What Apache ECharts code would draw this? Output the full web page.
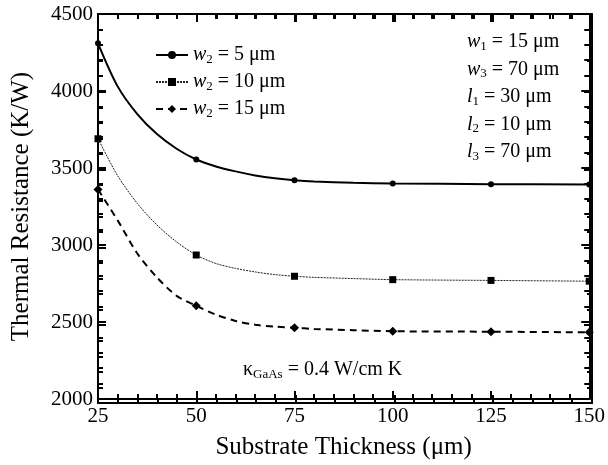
<!DOCTYPE html>
<html>
<head>
<meta charset="utf-8">
<script src="https://cdn.jsdelivr.net/npm/echarts@6/dist/echarts.min.js"></script>
<style>html,body{margin:0;padding:0;background:#fff}#c{width:608px;height:465px}</style>
</head>
<body>
<div id="c"></div>
<script>
// Substrate thickness (µm) sampled along the curves
const thickness = [25,30,35,40,45,50,55,60,65,70,75,80,90,100,125,150];
// Thermal resistance (K/W) for each w2
const rW5  = [4310,4030,3850,3720,3625,3555,3510,3478,3452,3433,3420,3412,3404,3400,3395,3393];
const rW10 = [3690,3450,3270,3130,3020,2935,2880,2848,2825,2808,2797,2790,2782,2775,2770,2765];
const rW15 = [3360,3160,2945,2790,2670,2605,2548,2507,2482,2470,2463,2455,2447,2440,2437,2433];
// thicknesses where markers are plotted
const markerThickness = [25,50,75,100,125,150];
const seriesW2 = ['5','10','15'];
const xTicks = [25,50,75,100,125,150];
const yTicks = [2000,2500,3000,3500,4000,4500];
const params = [['w','1','15'],['w','3','70'],['l','1','30'],['l','2','10'],['l','3','70']];

const FONT = 'Liberation Serif';
const chart = echarts.init(document.getElementById('c'));

function mkData(vals, sym) {
  return thickness.map((x, i) => ({
    value: [x, vals[i]],
    symbol: markerThickness.indexOf(x) >= 0 ? sym : 'none'
  }));
}
const names = seriesW2.map(v => 'w2 = ' + v + ' μm');
const richBase = {
  i: {fontFamily: FONT, fontSize: 20, fontStyle: 'italic', color: '#000'},
  s: {fontFamily: FONT, fontSize: 13, color: '#000', padding: [9, 0, 0, 0]},
  n: {fontFamily: FONT, fontSize: 20, color: '#000'}
};

function axisCommon(extra) {
  return Object.assign({
    type: 'value',
    axisLine: {show: true, onZero: false, lineStyle: {color: '#000', width: 2}},
    axisTick: {show: true, inside: true, length: 8, lineStyle: {color: '#000', width: 2}},
    minorTick: {show: true, splitNumber: 5, length: 5, lineStyle: {color: '#000', width: 2}},
    splitLine: {show: false},
    minorSplitLine: {show: false}
  }, extra);
}
const xr = {min: xTicks[0], max: xTicks[xTicks.length-1], interval: 25};
const yr = {min: yTicks[0], max: yTicks[yTicks.length-1], interval: 500};

const option = {
  backgroundColor: '#fff',
  animation: false,
  grid: [
    {left: 98, right: 16, top: 14, bottom: 62},
    {left: 98, right: 16, top: 14, bottom: 62}
  ],
  xAxis: [
    axisCommon(Object.assign({gridIndex: 0, position: 'bottom',
      axisLabel: {color: '#000', fontSize: 21, fontFamily: FONT, margin: 7, showMinLabel: true, showMaxLabel: true,
        formatter: v => String(v)},
      name: 'Substrate Thickness (μm)', nameLocation: 'middle', nameGap: 36,
      nameTextStyle: {color: '#000', fontSize: 25, fontFamily: FONT}}, xr)),
    axisCommon(Object.assign({gridIndex: 0, position: 'top', axisLabel: {show: false}}, xr)),
    axisCommon(Object.assign({gridIndex: 1, position: 'bottom', axisLabel: {show: false}}, xr)),
    axisCommon(Object.assign({gridIndex: 1, position: 'top', axisLabel: {show: false}}, xr))
  ],
  yAxis: [
    axisCommon(Object.assign({gridIndex: 0, position: 'left',
      axisLabel: {color: '#000', fontSize: 21, fontFamily: FONT, margin: 5, showMinLabel: true, showMaxLabel: true,
        formatter: v => String(v)},
      name: 'Thermal Resistance (K/W)', nameLocation: 'middle', nameGap: 64,
      nameTextStyle: {color: '#000', fontSize: 25, fontFamily: FONT}}, yr)),
    axisCommon(Object.assign({gridIndex: 0, position: 'right', axisLabel: {show: false}}, yr)),
    axisCommon(Object.assign({gridIndex: 1, position: 'left', axisLabel: {show: false}}, yr)),
    axisCommon(Object.assign({gridIndex: 1, position: 'right', axisLabel: {show: false}}, yr))
  ],
  legend: {
    orient: 'vertical', left: 150, top: 38, itemWidth: 32, itemHeight: 10, itemGap: 3,
    data: names,
    formatter: function (name) {
      const v = name.replace('w2 = ', '').replace(' μm', '');
      return '{i|w}{s|2}{n| = ' + v + ' μm}';
    },
    textStyle: {fontFamily: FONT, fontSize: 20, color: '#000', lineHeight: 24, rich: richBase}
  },
  series: [
    {name: names[0], type: 'line', xAxisIndex: 0, yAxisIndex: 0, smooth: 0.3, showAllSymbol: true, symbol: 'circle', symbolSize: 6,
     data: mkData(rW5, 'circle'), lineStyle: {color: '#000', width: 2}, itemStyle: {color: '#000'}},
    {name: names[1], type: 'line', xAxisIndex: 0, yAxisIndex: 0, smooth: 0.3, showAllSymbol: true, symbol: 'rect', symbolSize: 7,
     data: mkData(rW10, 'rect'), lineStyle: {color: '#222', width: 1, type: [2, 1]}, itemStyle: {color: '#000'}},
    {name: names[2], type: 'line', xAxisIndex: 0, yAxisIndex: 0, smooth: 0.3, showAllSymbol: true, symbol: 'diamond', symbolSize: 9,
     data: mkData(rW15, 'diamond'), lineStyle: {color: '#000', width: 2, type: [7, 5]}, itemStyle: {color: '#000'}}
  ],
  graphic: [
    {type: 'text', left: 467, top: 28,
     style: {text: params.map(p => '{i|' + p[0] + '}{s|' + p[1] + '}{n| = ' + p[2] + ' μm}').join('\n'),
       fontFamily: FONT, fontSize: 20, lineHeight: 27.5,
       rich: {i: Object.assign({}, richBase.i, {lineHeight: 27.5}), s: Object.assign({}, richBase.s, {lineHeight: 27.5}), n: Object.assign({}, richBase.n, {lineHeight: 27.5})}}},
    {type: 'text', left: 243, top: 360,
     style: {text: '{n|κ}{s|GaAs}{n| = 0.4 W/cm K}', fontFamily: FONT, fontSize: 20, rich: richBase}}
  ]
};
chart.setOption(option);
</script>
</body>
</html>
